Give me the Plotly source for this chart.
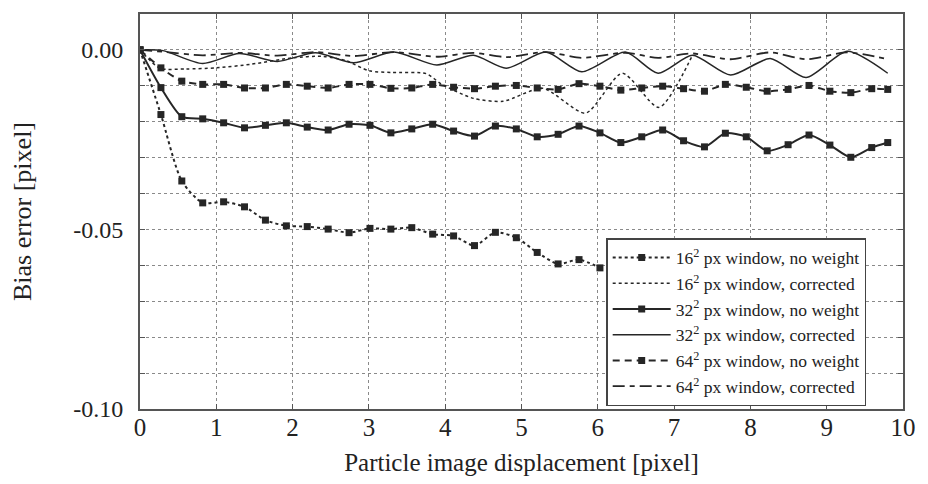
import plotly.graph_objects as go

# ---- data ----
X_STEP = 0.274
X_NW = [round(i * X_STEP, 3) for i in range(36)] + [9.8]

Y16_NW = [0, -0.0180, -0.0365, -0.0426, -0.0423, -0.0437, -0.0474, -0.0490, -0.0492,
          -0.0499, -0.0509, -0.0497, -0.0499, -0.0495, -0.0513, -0.0518, -0.0545,
          -0.0508, -0.0523, -0.0564, -0.0596, -0.0584, -0.0607]

Y32_NW = [0, -0.0105, -0.0186, -0.0192, -0.0203, -0.0217, -0.0210, -0.0203, -0.0215,
          -0.0223, -0.0207, -0.0210, -0.0231, -0.0220, -0.0207, -0.0226, -0.0240,
          -0.0212, -0.0220, -0.0242, -0.0235, -0.0212, -0.0231, -0.0258, -0.0242,
          -0.0223, -0.0253, -0.0270, -0.0232, -0.0242, -0.0281, -0.0264, -0.0237,
          -0.0265, -0.0299, -0.0272, -0.0258]

Y64_NW = [0, -0.0050, -0.0087, -0.0096, -0.0096, -0.0106, -0.0106, -0.0096, -0.0101,
          -0.0106, -0.0096, -0.0096, -0.0107, -0.0106, -0.0096, -0.0104, -0.0108,
          -0.0101, -0.0099, -0.0106, -0.0110, -0.0094, -0.0101, -0.0112, -0.0106,
          -0.0101, -0.0108, -0.0115, -0.0096, -0.0104, -0.0115, -0.0110, -0.0099,
          -0.0115, -0.0119, -0.0108, -0.0110]

X16_C = [0, 0.26, 0.6, 1.0, 1.45, 2.0, 2.4, 2.7, 3.0, 3.3, 3.75, 3.95, 4.37, 4.76,
         5.28, 5.84, 6.32, 6.8, 7.24]
Y16_C = [0, -0.0051, -0.0053, -0.0050, -0.0040, -0.0022, -0.0018, -0.0030, -0.0058,
         -0.0063, -0.0066, -0.0095, -0.0135, -0.0143, -0.0107, -0.0176, -0.0065,
         -0.0160, -0.0015]

X_C = [0, 0.3, 0.82, 1.3, 1.8, 2.3, 2.8, 3.33, 3.89, 4.37, 4.8, 5.32, 5.79, 6.36,
       6.79, 7.24, 7.74, 8.26, 8.73, 9.27, 9.8]
Y32_C = [0, -0.0002, -0.0038, -0.0010, -0.0032, -0.0008, -0.0036, -0.0006, -0.0042,
         -0.0015, -0.0051, -0.0006, -0.0061, -0.0006, -0.0065, -0.0015, -0.0070,
         -0.0024, -0.0077, -0.0004, -0.0065]
Y64_C = [0, -0.0005, -0.0015, -0.0008, -0.0016, -0.0006, -0.0017, -0.0006, -0.0019,
         -0.0008, -0.0020, -0.0006, -0.0022, -0.0008, -0.0022, -0.0010, -0.0026,
         -0.0007, -0.0026, -0.0007, -0.0026]

NAMES = ["16<sup>2</sup> px window, no weight", "16<sup>2</sup> px window, corrected",
         "32<sup>2</sup> px window, no weight", "32<sup>2</sup> px window, corrected",
         "64<sup>2</sup> px window, no weight", "64<sup>2</sup> px window, corrected"]

X_TICKS = [0, 1, 2, 3, 4, 5, 6, 7, 8, 9, 10]
Y_TICKS = [-0.10, -0.05, 0.00]
Y_TICKTEXT = ["-0.10", "-0.05", "0.00"]

INK = "#262626"
GRID = "#8a8a8a"
SERIF = "Liberation Serif, Times New Roman, Times, serif"
fig = go.Figure()

def add(x, y, name, dash, width, markers):
    fig.add_trace(go.Scatter(
        x=x, y=y, name=name,
        mode="lines+markers" if markers else "lines",
        line=dict(color=INK, width=width, dash=dash, shape="spline", smoothing=0.7),
        marker=dict(symbol="square", size=7, color=INK) if markers else None,
    ))

add(X_NW[:len(Y16_NW)], Y16_NW, NAMES[0], "dot", 2, True)
add(X16_C, Y16_C, NAMES[1], "dot", 1.5, False)
add(X_NW, Y32_NW, NAMES[2], "solid", 2, True)
add(X_C, Y32_C, NAMES[3], "solid", 1.5, False)
add(X_NW, Y64_NW, NAMES[4], "7px,5px", 2, True)
add(X_C, Y64_C, NAMES[5], "12px,5px,5px,5px", 1.8, False)

# the page body has an 8px margin, so the figure is sized to fit the window
fig.update_layout(
    width=912, height=468,
    margin=dict(l=132, r=10, t=4, b=66),
    paper_bgcolor="white", plot_bgcolor="white",
    font=dict(family=SERIF, size=25, color="#222"),
    showlegend=True,
    legend=dict(
        x=0.611, y=0.0075, xanchor="left", yanchor="bottom",
        bgcolor="white", bordercolor="#444", borderwidth=1.5,
        font=dict(family=SERIF, size=17.5, color="#222"), itemwidth=58,
        tracegroupgap=0,
    ),
)
fig.update_xaxes(
    range=[0, 10], tickvals=X_TICKS, ticktext=[str(v) for v in X_TICKS],
    showgrid=True, gridcolor=GRID, griddash="dot", gridwidth=1,
    showline=True, linecolor="#555", linewidth=2, mirror="ticks",
    ticks="inside", ticklen=5, tickcolor="#555", zeroline=False,
    ticklabeloverflow="allow", ticklabelstandoff=-5,
    tickfont=dict(family=SERIF, size=25),
    title=dict(text="Particle image displacement [pixel]", standoff=13,
               font=dict(family=SERIF, size=25)),
)
fig.update_yaxes(
    range=[-0.10, 0.01], tickvals=Y_TICKS, ticktext=Y_TICKTEXT,
    showgrid=True, gridcolor=GRID, griddash="dot", gridwidth=1,
    showline=True, linecolor="#555", linewidth=2, mirror="ticks",
    ticks="inside", ticklen=5, tickcolor="#555", zeroline=False,
    minor=dict(dtick=0.01, tick0=0, showgrid=True, gridcolor=GRID, griddash="dot",
               gridwidth=1, ticks="inside", ticklen=5, tickcolor="#555"),
    ticklabelstandoff=10,
    tickfont=dict(family=SERIF, size=24),
    title=dict(text="Bias error [pixel]", standoff=41,
               font=dict(family=SERIF, size=26)),
)

fig.write_html("out.html")
